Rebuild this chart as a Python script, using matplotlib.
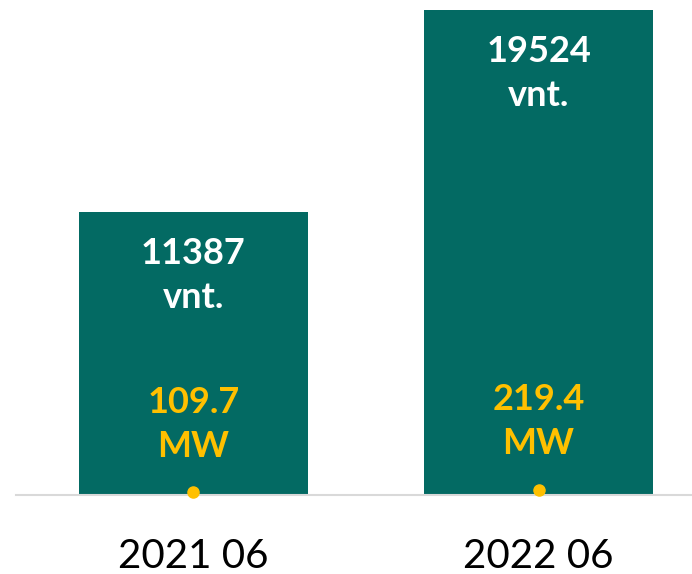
import matplotlib
matplotlib.use("Agg")
import matplotlib.pyplot as plt

categories = ["2021 06", "2022 06"]
counts = [11387, 19524]
power_mw = [109.7, 219.4]
count_labels = ["11387\nvnt.", "19524\nvnt."]
power_labels = ["109.7\nMW", "219.4\nMW"]

plt.rcParams['font.family'] = ['Lato', 'DejaVu Sans']

fig = plt.figure(figsize=(6.92, 5.74), dpi=100)
ax = fig.add_axes([16/692, 79/574, 700/692, 495/574])

x = range(len(categories))
bars = ax.bar(x, counts, width=0.664, color="#036A63", zorder=2)
ax.plot(x, power_mw, linestyle='none', marker='o', markersize=8,
        color="#FFC000", zorder=3, clip_on=False)

ax.set_xlim(-0.514, 1.514)
ax.set_ylim(0, 19524 * 495 / 485)

for xi, c, lab in zip(x, counts, count_labels):
    ax.annotate(lab, (xi, c), xytext=(0, -18), textcoords='offset points',
                ha='center', va='top', color='white', fontsize=26,
                fontweight='bold', linespacing=1.42)

for xi, p, lab in zip(x, power_mw, power_labels):
    ax.annotate(lab, (xi, p), xytext=(0, 21), textcoords='offset points',
                ha='center', va='bottom', color='#FFC000', fontsize=26,
                fontweight='bold', linespacing=1.42)

for s in ['top', 'right', 'left']:
    ax.spines[s].set_visible(False)
ax.spines['bottom'].set_color('#D9D9D9')
ax.spines['bottom'].set_linewidth(1.5)
ax.set_yticks([])
ax.set_xticks(list(x))
ax.set_xticklabels(categories, fontsize=29, color='black')
ax.tick_params(axis='x', length=0, pad=31)

fig.savefig("out.png", dpi=100)
